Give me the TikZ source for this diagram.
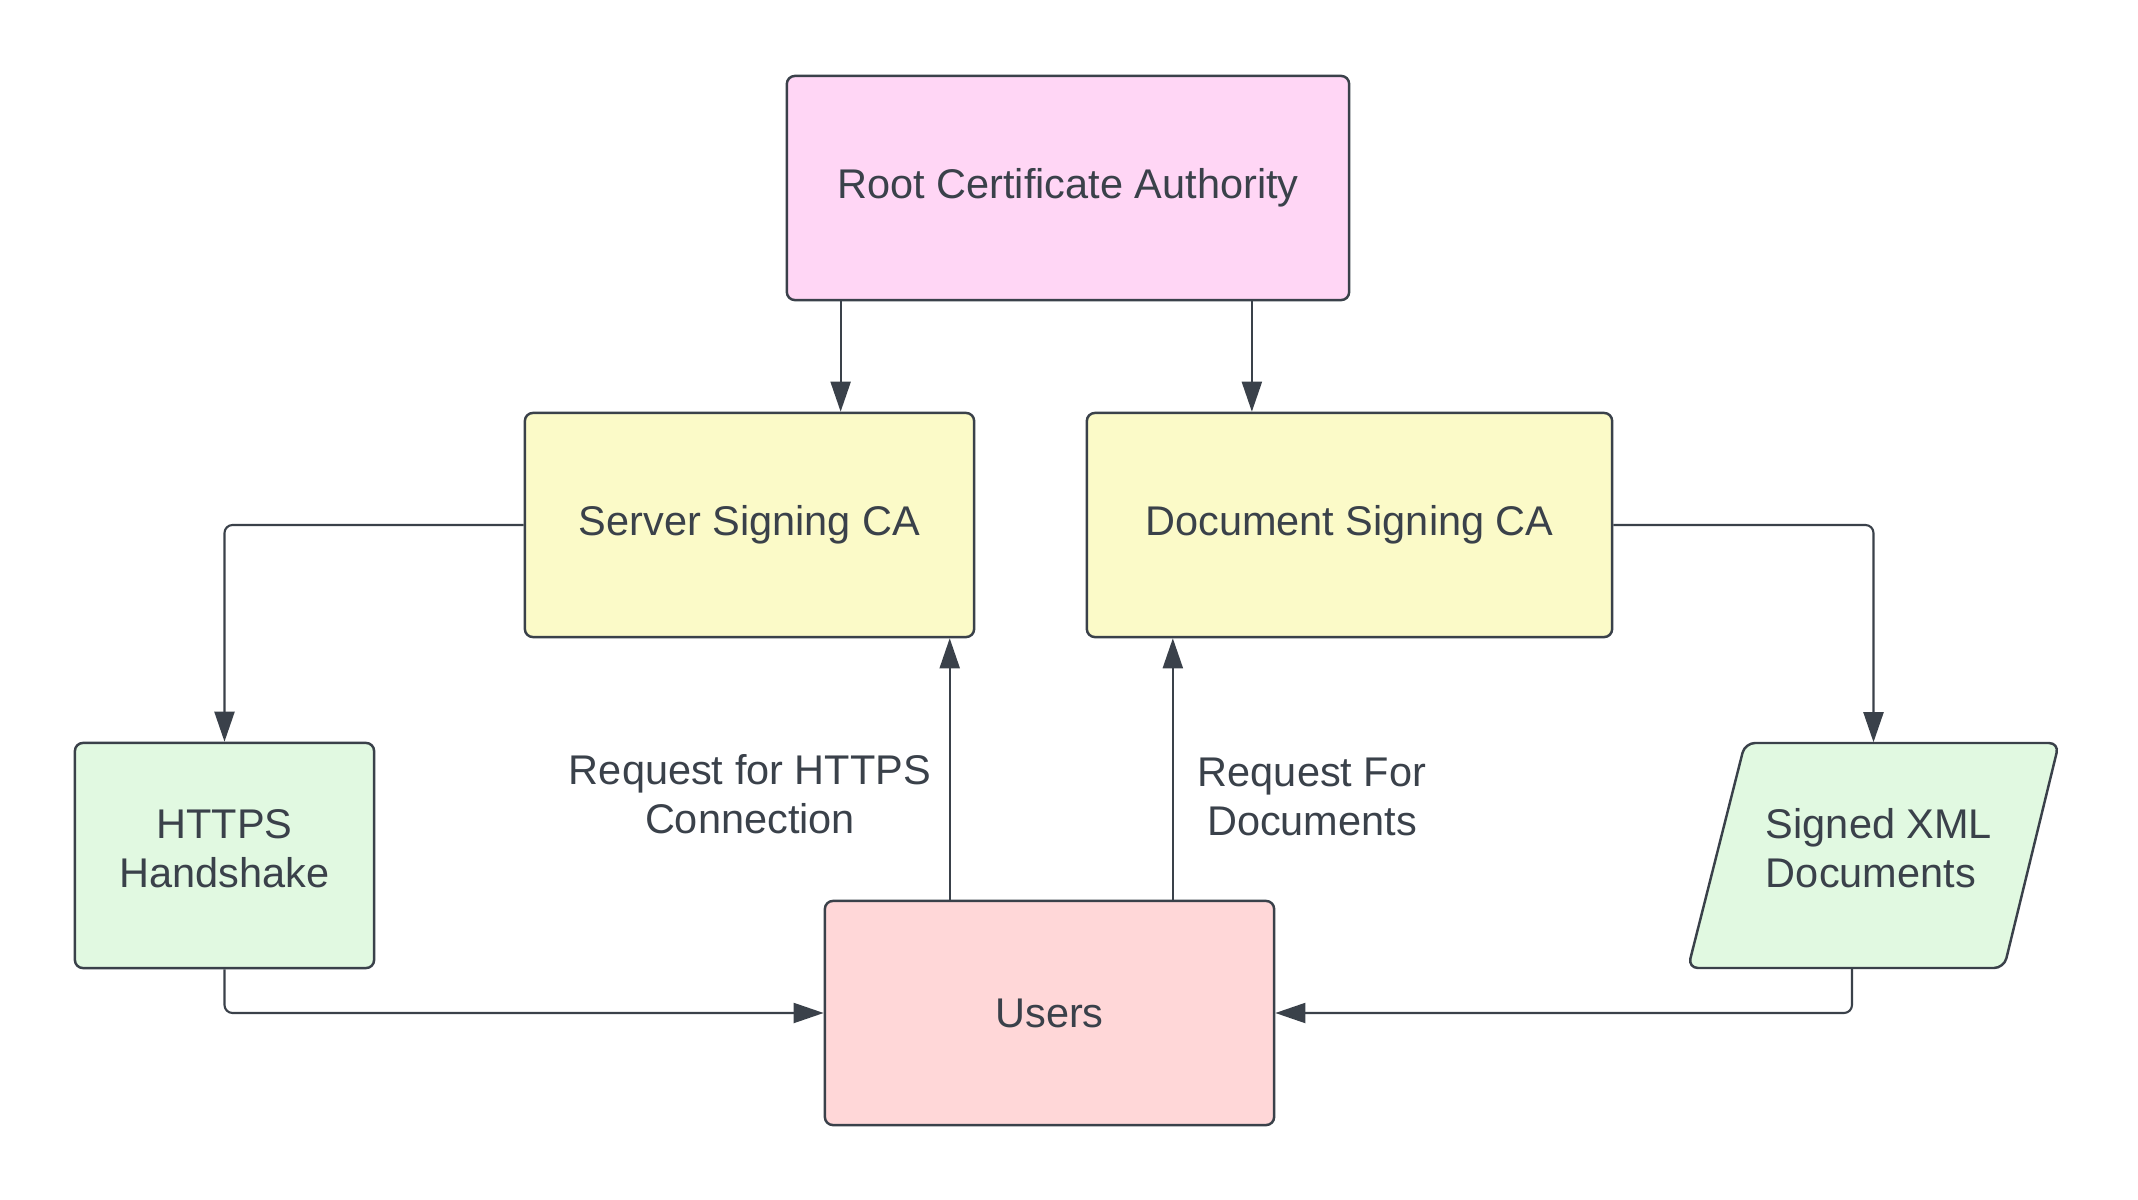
\documentclass[tikz,border=0pt]{standalone}
\usepackage{fontspec}
\setmainfont{Liberation Sans}
\usetikzlibrary{arrows.meta,calc}
\definecolor{ink}{HTML}{3A414A}
\definecolor{pinkf}{HTML}{FFD6F5}
\definecolor{yelf}{HTML}{FBFAC8}
\definecolor{grnf}{HTML}{E1F9E1}
\definecolor{redf}{HTML}{FFD7D8}
\begin{document}
\begin{tikzpicture}[x=0.01cm,y=-0.01cm,
  box/.style={draw=ink,line width=0.7pt,rounded corners=0.08cm,text=ink,align=center,inner sep=0pt,
    font=\fontsize{11.8}{14.0}\selectfont},
  lbl/.style={text=ink,align=center,inner sep=0pt,font=\fontsize{11.8}{14.0}\selectfont},
  arr/.style={draw=ink,line width=0.6pt,rounded corners=0.08cm,-{Triangle[length=0.3cm,width=0.2cm]}}]
\useasboundingbox (0,0) rectangle (2138,1200);
\node[box,fill=pinkf,minimum width=5.62cm,minimum height=2.24cm] (root) at (1068,188) {Root Certificate Authority};
\node[box,fill=yelf,minimum width=4.49cm,minimum height=2.24cm] (srv) at (749.5,525) {Server Signing CA};
\node[box,fill=yelf,minimum width=5.25cm,minimum height=2.24cm] (doc) at (1349.5,525) {Document Signing CA};
\node[box,fill=grnf,minimum width=2.99cm,minimum height=2.25cm,
  label={[lbl,yshift=0.065cm]center:{HTTPS\\Handshake}}] (hs) at (224.5,855.5) {};
\node[box,fill=redf,minimum width=4.49cm,minimum height=2.24cm] (users) at (1049.5,1013) {Users};
% parallelogram
\draw[draw=ink,fill=grnf,line width=0.7pt,rounded corners=0.1cm]
  (1745,743) -- (2059,743) -- (2004,968) -- (1688,968) -- cycle;
\node[lbl,minimum width=3.14cm,minimum height=2.25cm] (xml) at (1873.5,855.5) {};
\node[lbl,align=left] (xmlt) at (1879,848) {Signed XML\\Documents};
\node[lbl] (l1) at (750,794) {Request for HTTPS\\Connection};
\node[lbl] (l2) at (1312,797) {Request For\\Documents};
% connectors
\coordinate (r1) at ([xshift=0.55cm]root.south west);
\coordinate (r2) at ([xshift=4.66cm]root.south west);
\coordinate (u1) at ([xshift=1.26cm]users.north west);
\coordinate (u2) at ([xshift=3.49cm]users.north west);
\coordinate (xb) at ([xshift=-0.215cm]xml.south);
\draw[arr] (r1) -- (r1 |- srv.north);
\draw[arr] (r2) -- (r2 |- doc.north);
\draw[arr] (srv.west) -| (hs.north);
\draw[arr] (doc.east) -| (xml.north);
\draw[arr] (hs.south) |- (users.west);
\draw[arr] (xb) |- (users.east);
\draw[arr] (u1) -- (u1 |- srv.south);
\draw[arr] (u2) -- (u2 |- doc.south);
\end{tikzpicture}
\end{document}
